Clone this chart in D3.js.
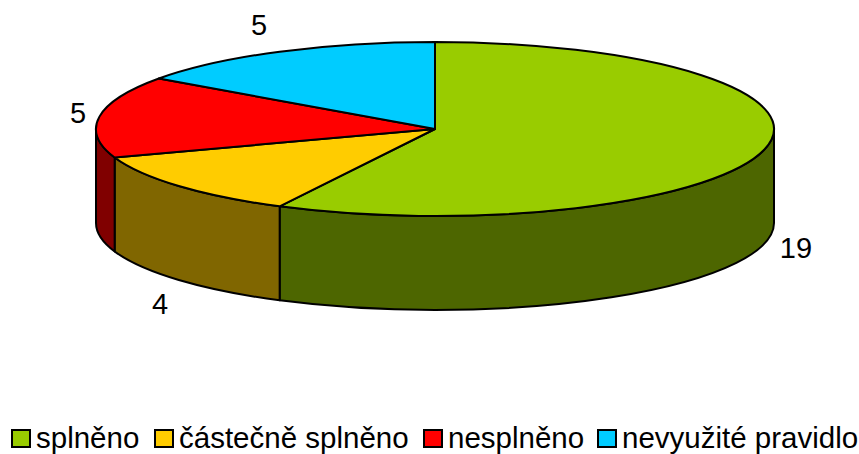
<!DOCTYPE html>
<html>
<head>
<meta charset="utf-8">
<script src="https://cdn.jsdelivr.net/npm/d3@7"></script>
<style>
  html, body { margin: 0; padding: 0; background: #fff; }
  text { font-family: "Liberation Sans", Arial, sans-serif; font-size: 29px; fill: #000; }
  .legend-label { font-size: 29.5px; }
</style>
</head>
<body>
<div id="chart"></div>
<script>
const categories = ["splněno", "částečně splněno", "nesplněno", "nevyužité pravidlo"];
const values = [19, 4, 5, 5];
const topColors = ["#99cc00", "#ffcc00", "#ff0000", "#00ccff"];
const sideColors = ["#4d6600", "#806600", "#800000", "#006680"];

const width = 859, height = 454;
const cx = 435, cy = 129, rx = 339, ry = 87, depth = 94;
const lineWidth = 2;

const svg = d3.select("#chart").append("svg")
  .attr("width", width)
  .attr("height", height)
  .attr("viewBox", [0, 0, width, height])
  .style("display", "block");

// angles run clockwise from 12 o'clock, the same as the original
const slices = d3.pie().sort(null).value(d => d)(values);

const px = a => cx + rx * Math.sin(a);
const py = a => cy - ry * Math.cos(a);

// wedge on the top face
function topPath(d) {
  const large = d.endAngle - d.startAngle > Math.PI ? 1 : 0;
  return `M${cx},${cy}L${px(d.startAngle)},${py(d.startAngle)}` +
    `A${rx},${ry} 0 ${large} 1 ${px(d.endAngle)},${py(d.endAngle)}Z`;
}

// outer wall, only the part facing the viewer (90deg to 270deg)
function sidePath(d) {
  const a0 = Math.max(d.startAngle, Math.PI / 2);
  const a1 = Math.min(d.endAngle, Math.PI * 1.5);
  if (a1 <= a0) return null;
  return `M${px(a0)},${py(a0)}A${rx},${ry} 0 0 1 ${px(a1)},${py(a1)}` +
    `L${px(a1)},${py(a1) + depth}A${rx},${ry} 0 0 0 ${px(a0)},${py(a0) + depth}Z`;
}

svg.append("g").selectAll("path")
  .data(slices.filter(d => sidePath(d)))
  .join("path")
  .attr("d", sidePath)
  .attr("fill", d => sideColors[d.index])
  .attr("stroke", "#000")
  .attr("stroke-width", lineWidth)
  .attr("stroke-linejoin", "round");

svg.append("g").selectAll("path")
  .data(slices)
  .join("path")
  .attr("d", topPath)
  .attr("fill", d => topColors[d.index])
  .attr("stroke", "#000")
  .attr("stroke-width", lineWidth)
  .attr("stroke-linejoin", "round");

// value labels
const labelX = [796, 160, 78, 259];
const labelY = [248, 304, 113, 25];
svg.append("g").selectAll("text")
  .data(values)
  .join("text")
  .attr("x", (d, i) => labelX[i])
  .attr("y", (d, i) => labelY[i])
  .attr("dy", "0.35em")
  .attr("text-anchor", "middle")
  .text(d => d);

// legend
const legendX = [12, 155, 424, 598];
const legend = svg.append("g").selectAll("g")
  .data(categories)
  .join("g")
  .attr("transform", (d, i) => `translate(${legendX[i]},430)`);

legend.append("rect")
  .attr("width", 18)
  .attr("height", 17)
  .attr("fill", (d, i) => topColors[i])
  .attr("stroke", "#000")
  .attr("stroke-width", lineWidth);

legend.append("text")
  .attr("class", "legend-label")
  .attr("x", 24)
  .attr("y", 18)
  .text(d => d);
</script>
</body>
</html>
